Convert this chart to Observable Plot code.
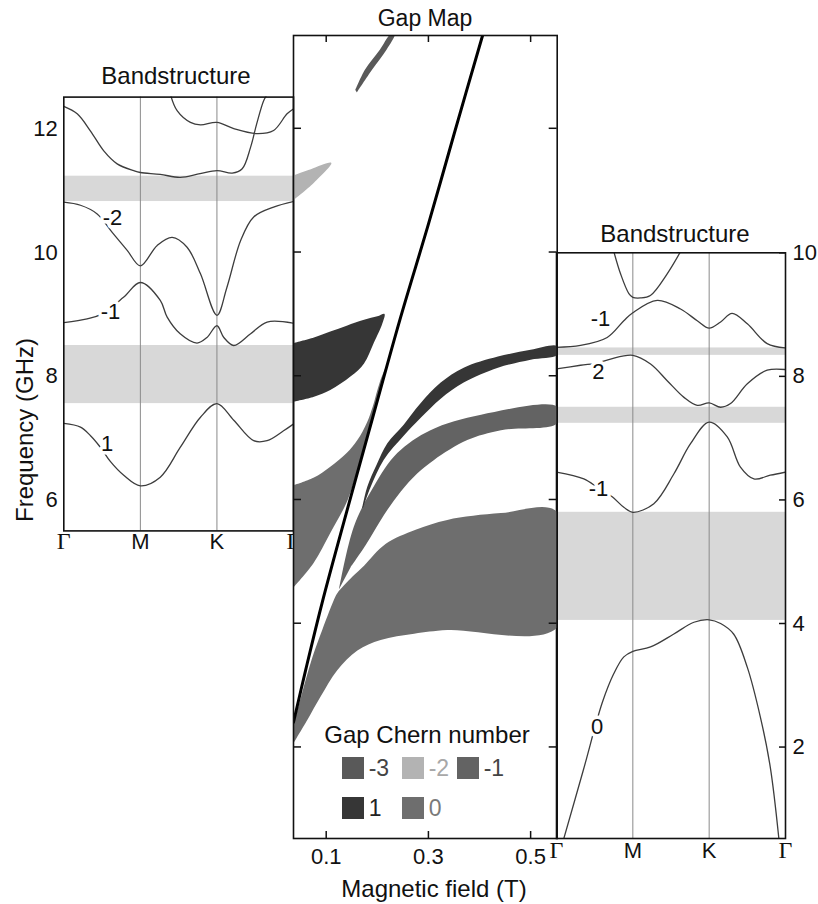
<!DOCTYPE html>
<html>
<head>
<meta charset="utf-8">
<script src="https://cdn.jsdelivr.net/npm/d3@7"></script>
<script src="https://cdn.jsdelivr.net/npm/@observablehq/plot@0.6"></script>
<style>
  html, body { margin: 0; padding: 0; background: #fff; }
  #chart { position: relative; width: 818px; height: 904px; overflow: hidden;
           font-family: "Liberation Sans", Arial, Helvetica, sans-serif; color: #111; }
  #chart svg { position: absolute; left: 0; top: 0; }
  .lbl { position: absolute; white-space: nowrap; line-height: 1; transform: translate(-50%, -50%); }
  .sw { position: absolute; width: 22px; height: 22px; }
</style>
</head>
<body>
<div id="chart"></div>
<script>
// ---------- Band path (Γ–M–K–Γ) ----------
const kPoints = [0, 1, 2, 3];
const kNames = ["Γ", "M", "K", "Γ"];

// ---------- Left bandstructure (low field), [k, GHz] ----------
const leftBandA = [[0,12.37],[0.175,12.25],[0.349,11.97],[0.522,11.65],[0.697,11.44],[0.914,11.33],[1.0,11.30],[1.26,11.27],[1.52,11.22],[1.78,11.28],[2.0,11.33],[2.2,11.29],[2.33,11.36],[2.44,11.71],[2.52,12.09],[2.61,12.46],[2.655,12.56]];
const leftBandB = [[1.393,12.56],[1.48,12.30],[1.654,12.11],[1.785,12.07],[2.0,12.11],[2.22,12.01],[2.525,11.93],[2.74,11.98],[2.916,12.25],[3.0,12.33]];
const leftBandM2 = [[0,10.82],[0.218,10.77],[0.436,10.63],[0.632,10.33],[0.828,10.04],[1.0,9.79],[1.22,10.12],[1.415,10.25],[1.61,10.09],[1.785,9.66],[2.0,8.99],[2.13,9.44],[2.31,10.20],[2.48,10.58],[2.74,10.74],[3.0,10.83]];
const leftBandM1 = [[0,8.87],[0.305,8.93],[0.48,9.0],[0.78,9.28],[1.0,9.52],[1.26,9.23],[1.35,8.96],[1.52,8.69],[1.74,8.54],[1.87,8.63],[2.0,8.82],[2.09,8.63],[2.22,8.50],[2.44,8.69],[2.655,8.88],[3.0,8.86]];
const leftBandP1 = [[0,7.24],[0.218,7.18],[0.349,7.04],[0.48,6.85],[0.61,6.62],[0.783,6.40],[1.0,6.23],[1.26,6.37],[1.52,6.85],[1.785,7.34],[2.0,7.56],[2.22,7.29],[2.48,6.96],[2.655,6.96],[2.87,7.12],[3.0,7.23]];
const leftGaps = [[10.83, 11.24], [7.56, 8.50]];
const leftBandLabels = [
  {k: 0.636, f: 10.57, t: "-2"},
  {k: 0.61, f: 9.04, t: "-1"},
  {k: 0.567, f: 6.91, t: "1"}
];
const leftTicks = [6, 8, 10, 12];

// ---------- Right bandstructure (high field), [k, GHz] ----------
const rightBandTop = [[0.751,10.02],[0.839,9.66],[0.948,9.34],[1.0,9.28],[1.1,9.27],[1.23,9.31],[1.45,9.66],[1.625,10.02]];
const rightBandM1a = [[0,8.47],[0.315,8.50],[0.664,8.63],[0.882,8.90],[1.0,9.03],[1.32,9.23],[1.625,9.09],[1.844,8.90],[2.0,8.78],[2.15,8.88],[2.30,9.02],[2.50,8.85],[2.76,8.53],[3.0,8.46]];
const rightBandP2 = [[0,8.12],[0.315,8.18],[0.55,8.22],[0.708,8.28],[1.0,8.34],[1.232,8.20],[1.45,7.93],[1.67,7.66],[1.844,7.53],[2.0,7.57],[2.15,7.50],[2.28,7.56],[2.50,7.88],[2.76,8.10],[3.0,8.11]];
const rightBandM1b = [[0,6.45],[0.358,6.34],[0.55,6.19],[0.73,6.05],[0.882,5.88],[1.0,5.80],[1.275,5.94],[1.537,6.42],[1.756,6.91],[2.0,7.26],[2.237,7.02],[2.41,6.53],[2.586,6.34],[2.80,6.40],[3.0,6.45]];
const rightBand0 = [[0.096,0.52],[0.35,1.62],[0.6,2.72],[0.751,3.19],[0.882,3.46],[1.0,3.55],[1.232,3.62],[1.537,3.83],[1.80,4.02],[2.0,4.06],[2.15,4.0],[2.32,3.83],[2.50,3.29],[2.67,2.49],[2.80,1.68],[2.913,0.52]];
const rightGaps = [[8.34, 8.46], [7.24, 7.50], [4.05, 5.80]];
const rightBandLabels = [
  {k: 0.577, f: 8.93, t: "-1"},
  {k: 0.55, f: 8.07, t: "2"},
  {k: 0.55, f: 6.17, t: "-1"},
  {k: 0.533, f: 2.32, t: "0"}
];
const rightTicks = [2, 4, 6, 8, 10];

// ---------- Gap map: field (T) vs frequency (GHz) ----------
const fieldTicks = [0.1, 0.3, 0.5];
const freqTicks = [2, 4, 6, 8, 10, 12];
// Resonance line
const resonanceLine = [[0.036,2.4],[0.06,3.25],[0.092,4.33],[0.14,5.8],[0.1835,7.1],[0.244,8.9],[0.3,10.45],[0.35,11.9],[0.406,13.5]];
// Gap outlines, [B, f] traced around each gap
const gapC1Left = [[0.036,8.53],[0.076,8.62],[0.108,8.715],[0.14,8.81],[0.174,8.905],[0.2,8.96],[0.214,9.0],[0.21,8.85],[0.193,8.53],[0.174,8.20],[0.148,7.99],[0.108,7.77],[0.076,7.66],[0.036,7.58]];
const gapCm2 = [[0.036,11.24],[0.07,11.34],[0.11,11.44],[0.076,11.12],[0.036,10.84]];
const gapCm3 = [[0.16,12.58],[0.19,12.95],[0.218,13.27],[0.234,13.52],[0.226,13.52],[0.205,13.27],[0.176,12.95],[0.157,12.62]];
const gapC0Left = [[0.036,6.23],[0.075,6.35],[0.108,6.53],[0.14,6.75],[0.161,6.96],[0.18,7.25],[0.191,7.5],[0.205,7.9],[0.222,8.23],[0.205,7.75],[0.19,7.33],[0.167,6.65],[0.142,5.99],[0.108,5.46],[0.075,4.97],[0.036,4.58]];
const gapC0Big = [[0.036,2.06],[0.0627,2.43],[0.0888,2.81],[0.1216,3.24],[0.161,3.56],[0.2065,3.73],[0.272,3.83],[0.337,3.89],[0.552,3.93],[0.552,5.80],[0.442,5.78],[0.337,5.67],[0.275,5.51],[0.216,5.28],[0.174,4.93],[0.151,4.75],[0.122,4.49],[0.118,4.43],[0.0922,3.89],[0.0692,3.35],[0.036,2.35]];
const gapCm1 = [[0.125,4.55],[0.154,5.56],[0.193,6.21],[0.239,6.75],[0.304,7.12],[0.403,7.37],[0.552,7.50],[0.552,7.23],[0.442,7.12],[0.376,6.96],[0.311,6.64],[0.278,6.42],[0.246,6.13],[0.213,5.75],[0.177,5.26],[0.148,4.91]];
const gapC1Right = [[0.1704,5.86],[0.1802,6.20],[0.1986,6.56],[0.2196,6.91],[0.2516,7.21],[0.285,7.56],[0.324,7.89],[0.369,8.13],[0.436,8.31],[0.5,8.42],[0.552,8.48],[0.552,8.34],[0.5,8.26],[0.436,8.13],[0.369,7.89],[0.324,7.63],[0.285,7.32],[0.2516,7.03],[0.2124,6.64],[0.1869,6.20],[0.173,5.88]];
const gapRegions = [
  {chern: -2, outline: gapCm2},
  {chern: -3, outline: gapCm3},
  {chern: 1, outline: gapC1Left},
  {chern: 0, outline: gapC0Left},
  {chern: 0, outline: gapC0Big},
  {chern: -1, outline: gapCm1},
  {chern: 1, outline: gapC1Right}
];
const chernNumbers = [-3, -2, -1, 1, 0];
const chernColors = ["#595959", "#b3b3b3", "#636363", "#363636", "#6e6e6e"];
const chernTextColors = ["#444", "#a8a8a8", "#444", "#222", "#7a7a7a"];

// ---------- Drawing ----------
const W = 818, H = 904;
const sans = '"Liberation Sans", Arial, Helvetica, sans-serif';
const serif = '"Liberation Serif", "Times New Roman", serif';
const bandStroke = "#3d3d3d";
const gapFill = "#d8d8d8";
const chart = document.getElementById("chart");
const colorOf = c => chernColors[chernNumbers.indexOf(c)];
const baseStyle = {background: "transparent", fontFamily: sans, fontSize: "22px", color: "#111", overflow: "visible"};

function bandPanel({bands, gaps, labels, yDomain, ticks, anchor, margin, kLabelDy}) {
  const frameW = W - margin.left - margin.right;
  return Plot.plot({
    width: W, height: H,
    marginLeft: margin.left, marginRight: margin.right, marginTop: margin.top, marginBottom: margin.bottom,
    style: baseStyle,
    x: {domain: [0, 3], axis: null, label: null},
    y: {domain: yDomain, axis: null, label: null},
    marks: [
      Plot.rect(gaps, {y1: d => d[0], y2: d => d[1], fill: gapFill}),
      Plot.ruleX([1, 2], {stroke: "#8a8a8a", strokeWidth: 1}),
      ...bands.map(b => Plot.line(b, {x: d => d[0], y: d => d[1], stroke: bandStroke, strokeWidth: 1.3, curve: "catmull-rom", clip: true})),
      Plot.text(labels, {x: "k", y: "f", text: "t", fontSize: 22, fill: "#111", stroke: "white", strokeWidth: 7, paintOrder: "stroke"}),
      anchor === "right"
        ? Plot.tickY(ticks, {y: d => d, insetLeft: frameW - 6, stroke: "#111", strokeWidth: 1.5})
        : null,
      Plot.axisY(ticks, {anchor, label: null, tickSize: 0, tickPadding: anchor === "right" ? 7 : 6, tickFormat: d => String(d), fontSize: 22}),
      Plot.text(kPoints.filter(k => kNames[k] !== "Γ"), {x: d => d, text: d => kNames[d], frameAnchor: "bottom", dy: kLabelDy, fontSize: 22, fill: "#111"}),
      Plot.text(kPoints.filter(k => kNames[k] === "Γ"), {x: d => d, text: d => kNames[d], frameAnchor: "bottom", dy: kLabelDy, fontSize: 24, fontFamily: serif, fill: "#111"}),
      Plot.frame({stroke: "#111", strokeWidth: 1.6})
    ]
  });
}

const leftPanel = bandPanel({
  bands: [leftBandA, leftBandB, leftBandM2, leftBandM1, leftBandP1],
  gaps: leftGaps, labels: leftBandLabels, yDomain: [5.5, 12.52], ticks: leftTicks, anchor: "left",
  margin: {left: 63.3, right: W - 293, top: 96.6, bottom: H - 530.4}, kLabelDy: 18
});

const rightPanel = bandPanel({
  bands: [rightBandTop, rightBandM1a, rightBandP2, rightBandM1b, rightBand0],
  gaps: rightGaps, labels: rightBandLabels, yDomain: [0.52, 10], ticks: rightTicks, anchor: "right",
  margin: {left: 556, right: W - 785, top: 252.3, bottom: 66}, kLabelDy: 19
});

const gapFrameW = 556.7 - 293, gapFrameH = 838 - 35;
const gapMap = Plot.plot({
  width: W, height: H,
  marginLeft: 293, marginRight: W - 556.7, marginTop: 35, marginBottom: 66,
  style: baseStyle,
  x: {domain: [0.036, 0.552], axis: null, label: null},
  y: {domain: [0.52, 13.5], axis: null, label: null},
  marks: [
    ...gapRegions.map(r => Plot.line(r.outline, {x: d => d[0], y: d => d[1], fill: colorOf(r.chern), stroke: "none", curve: "catmull-rom", clip: true})),
    Plot.line(resonanceLine, {x: d => d[0], y: d => d[1], stroke: "#000", strokeWidth: 3, curve: "catmull-rom", clip: true}),
    Plot.tickX(fieldTicks, {x: d => d, insetTop: gapFrameH - 7, stroke: "#111", strokeWidth: 1.5}),
    Plot.tickX(fieldTicks, {x: d => d, insetBottom: gapFrameH - 7, stroke: "#111", strokeWidth: 1.5}),
    Plot.tickY(freqTicks, {y: d => d, insetRight: gapFrameW - 8, stroke: "#111", strokeWidth: 1.5}),
    Plot.tickY(freqTicks, {y: d => d, insetLeft: gapFrameW - 8, stroke: "#111", strokeWidth: 1.5}),
    Plot.axisX(fieldTicks, {anchor: "bottom", label: null, tickSize: 0, tickPadding: 10, tickFormat: d => String(d), fontSize: 22}),
    Plot.frame({stroke: "#111", strokeWidth: 1.6})
  ]
});

chart.append(leftPanel, rightPanel, gapMap);

// ---------- Titles, axis names and the Chern-number key ----------
function label(text, cx, cy, size, extra = {}) {
  const d = document.createElement("div");
  d.className = "lbl";
  d.textContent = text;
  Object.assign(d.style, {left: cx + "px", top: cy + "px", fontSize: size + "px"}, extra);
  chart.append(d);
  return d;
}
label("Gap Map", 425, 18, 23);
label("Bandstructure", 176, 76, 24);
label("Bandstructure", 675, 234, 24);
label("Frequency (GHz)", 25, 430, 24, {transform: "translate(-50%, -50%) rotate(-90deg)"});
label("Magnetic field (T)", 434, 889, 24);
label("Gap Chern number", 427, 735, 24);

const keyPos = [[341.7, 757], [401.7, 757], [456.7, 757], [341.7, 797], [401.7, 797]];
chernNumbers.forEach((c, i) => {
  const [x, y] = keyPos[i];
  const s = document.createElement("div");
  s.className = "sw";
  Object.assign(s.style, {left: x + "px", top: y + "px", background: chernColors[i]});
  chart.append(s);
  const t = document.createElement("div");
  t.className = "lbl";
  t.textContent = String(c);
  Object.assign(t.style, {left: (x + 27) + "px", top: (y + 11) + "px", fontSize: "23px", color: chernTextColors[i], transform: "translate(0, -50%)"});
  chart.append(t);
});
</script>
</body>
</html>
